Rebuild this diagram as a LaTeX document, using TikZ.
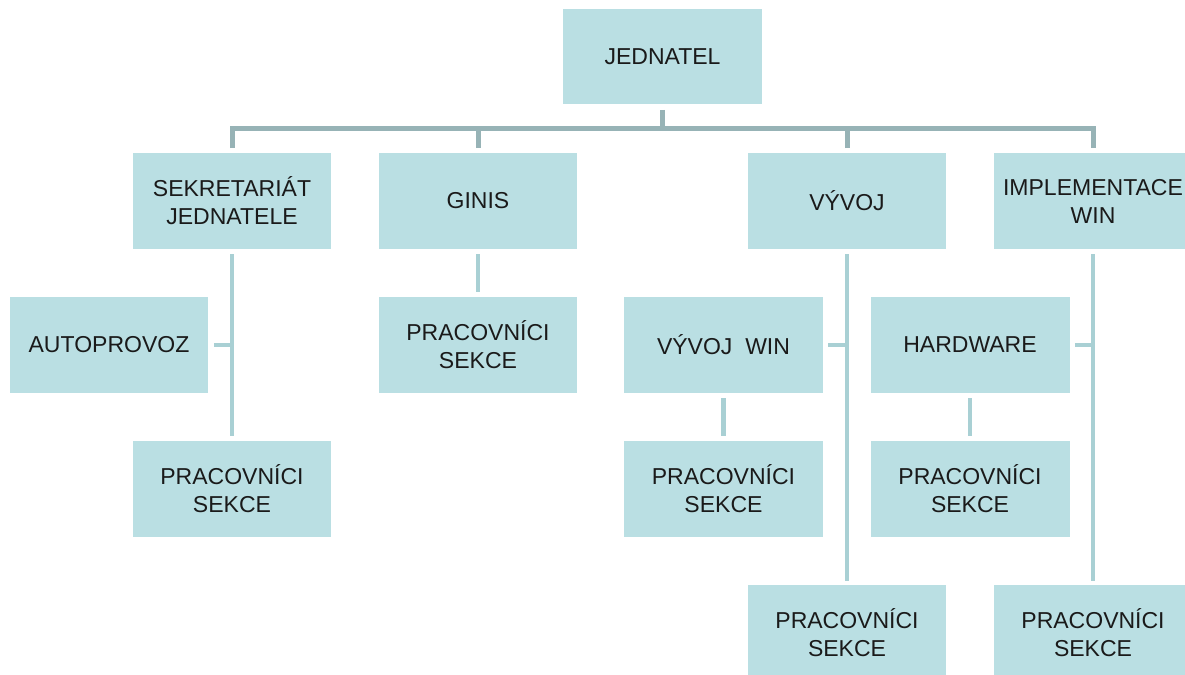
\documentclass[tikz,border=0pt]{standalone}
\usepackage{fontspec}
\setmainfont{Liberation Sans}
\usetikzlibrary{calc}
\definecolor{boxfill}{HTML}{BADFE3}
\definecolor{barline}{HTML}{97B3B6}
\definecolor{subline}{HTML}{A9D0D4}
\definecolor{txt}{HTML}{1A1A1A}
\tikzset{
  orgbox/.style={fill=boxfill, draw=none, inner sep=0pt,
    minimum width=3.98cm, minimum height=1.92cm,
    align=center, text=txt,
    font=\fontsize{13.1pt}{15.9pt}\selectfont},
  topline/.style={draw=barline, line width=0.1cm},
  subconn/.style={draw=subline, line width=0.09cm},
}
\begin{document}
\begin{tikzpicture}[x=0.02cm, y=-0.02cm]
\useasboundingbox (0,0) rectangle (1185,674);
\clip (0,0) rectangle (1185,674);

% boxes
\node[orgbox] (jed)  at (662.5,56.5) {JEDNATEL};
\node[orgbox] (sek)  at (232,201)    {SEKRETARIÁT\\JEDNATELE};
\node[orgbox] (gin)  at (478,201)    {GINIS};
\node[orgbox] (vyv)  at (847,201)    {VÝVOJ};
\node[orgbox] (imp)  at (1093,201)   {IMPLEMENTACE\\WIN};
\node[orgbox] (auto) at (109,345)    {AUTOPROVOZ};
\node[orgbox] (gps)  at (478,345)    {PRACOVNÍCI\\SEKCE};
\node[orgbox] (vwin) at (723.5,345)  {VÝVOJ\ \ WIN};
\node[orgbox] (hw)   at (970,345)    {HARDWARE};
\node[orgbox] (sps)  at (232,489)    {PRACOVNÍCI\\SEKCE};
\node[orgbox] (vwps) at (723.5,489)  {PRACOVNÍCI\\SEKCE};
\node[orgbox] (hwps) at (970,489)    {PRACOVNÍCI\\SEKCE};
\node[orgbox] (vps)  at (847,633)    {PRACOVNÍCI\\SEKCE};
\node[orgbox] (ips)  at (1093,633)   {PRACOVNÍCI\\SEKCE};

% top-level distribution bar
\coordinate (bar) at ($(jed.south)!0.5!(jed.south |- sek.north)$);
\draw[topline] ([yshift=-0.1cm]jed.south) -- (bar);
\draw[topline] ([yshift=0.09cm]sek.north) |- (bar) -| ([yshift=0.09cm]imp.north);
\draw[topline] ([yshift=0.09cm]gin.north) -- (gin.north |- bar);
\draw[topline] ([yshift=0.09cm]vyv.north) -- (vyv.north |- bar);

% departments and their sections
\draw[subconn] ([yshift=-0.1cm]sek.south) -- ([yshift=0.1cm]sps.north);
\draw[subconn] ([xshift=0.1cm]auto.east) -- (sek.south |- auto.east);
\draw[subconn] ([yshift=-0.1cm]gin.south) -- ([yshift=0.1cm]gps.north);
\draw[subconn] ([yshift=-0.1cm]vyv.south) -- ([yshift=0.08cm]vps.north);
\draw[subconn] ([xshift=0.1cm]vwin.east) -- (vyv.south |- vwin.east);
\draw[subconn] ([yshift=-0.1cm]vwin.south) -- ([yshift=0.1cm]vwps.north);
\draw[subconn] ([yshift=-0.1cm]imp.south) -- ([yshift=0.08cm]ips.north);
\draw[subconn] ([xshift=0.1cm]hw.east) -- (imp.south |- hw.east);
\draw[subconn] ([yshift=-0.1cm]hw.south) -- ([yshift=0.1cm]hwps.north);
\end{tikzpicture}
\end{document}
